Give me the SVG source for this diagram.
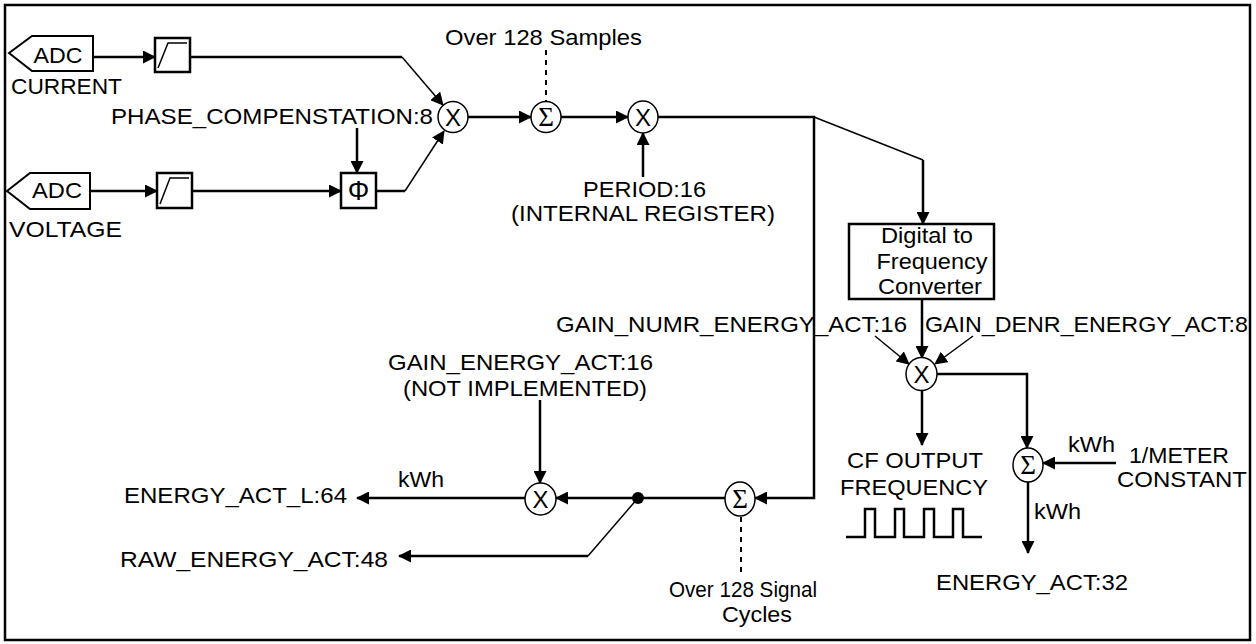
<svg xmlns="http://www.w3.org/2000/svg" width="1256" height="644" viewBox="0 0 1256 644">
<style>
.t{font-family:"Liberation Sans",Arial,sans-serif;font-size:22px;fill:#000}
.m{text-anchor:middle}
.e{text-anchor:end}
.op{font-family:"Liberation Sans",Arial,sans-serif;font-size:24px;text-anchor:middle}
.sg{font-family:"Liberation Serif","DejaVu Serif",serif;font-size:27px;text-anchor:middle}
.ph{font-family:"Liberation Sans","DejaVu Sans",sans-serif;font-size:27px;text-anchor:middle}
.ring{fill:#fff;stroke:#000;stroke-width:1.5}
.box{fill:#fff;stroke:#000;stroke-width:2.5}
.thk{fill:none;stroke:#000;stroke-width:2.5}
.thn{fill:none;stroke:#000;stroke-width:1.5}
.arr{marker-end:url(#ah)}
.dash{fill:none;stroke:#000;stroke-width:2;stroke-dasharray:5 5}
</style>
<defs>
<marker id="ah" markerUnits="userSpaceOnUse" markerWidth="13" markerHeight="13" viewBox="0 0 13 13" refX="12" refY="6.5" orient="auto">
<path d="M0,0 L13,6.5 L0,13 z" fill="#000"/>
</marker>
</defs>
<rect x="5" y="5" width="1245" height="635" fill="#fff" stroke="#000" stroke-width="2.5"/>

<g id="connectors">
<line class="thk arr" x1="93" y1="57" x2="155" y2="57"/>
<line class="thk" x1="190" y1="57" x2="402" y2="57"/>
<line class="thn arr" x1="402" y1="57" x2="443" y2="105"/>
<line class="thk arr" x1="90" y1="191" x2="157" y2="191"/>
<line class="thk arr" x1="192" y1="191" x2="341" y2="191"/>
<line class="thk arr" x1="357" y1="128" x2="357" y2="173"/>
<line class="thk" x1="376" y1="191" x2="405" y2="191"/>
<line class="thn arr" x1="405" y1="191" x2="444" y2="131"/>
<line class="thk arr" x1="468" y1="117" x2="531" y2="117"/>
<line class="dash" x1="546" y1="50" x2="546" y2="101"/>
<line class="thk arr" x1="561" y1="117" x2="628" y2="117"/>
<line class="thk arr" x1="643" y1="177" x2="643" y2="133"/>
<polyline class="thk arr" points="658,117 814,117 814,498 755,498"/>
<line class="thn" x1="814" y1="117" x2="923" y2="160"/>
<line class="thk arr" x1="923" y1="160" x2="923" y2="224"/>
<line class="thk arr" x1="922" y1="299" x2="922" y2="358"/>
<line class="thn arr" x1="875" y1="336" x2="909" y2="364"/>
<line class="thn arr" x1="973" y1="336" x2="935" y2="364"/>
<line class="thk arr" x1="922" y1="390" x2="922" y2="445"/>
<polyline class="thk arr" points="937,374 1027,374 1027,448"/>
<line class="thk arr" x1="1116" y1="463" x2="1043" y2="463"/>
<line class="thk arr" x1="1028" y1="482" x2="1028" y2="553"/>
<line class="thk arr" x1="725" y1="498" x2="556" y2="498"/>
<line class="thn" x1="638" y1="498" x2="588" y2="556"/>
<line class="thk arr" x1="588" y1="556" x2="399" y2="556"/>
<line class="thk arr" x1="525" y1="498" x2="357" y2="498"/>
<line class="thk arr" x1="540" y1="400" x2="540" y2="483"/>
<line class="dash" x1="741" y1="517" x2="741" y2="574"/>
<circle cx="638" cy="498" r="6" fill="#000"/>
<path class="thk" d="M846 537 H865 V509 H875 V537 H895 V509 H904 V537 H924 V509 H934 V537 H953 V509 H963 V537 H982"/>
</g>

<g id="adc-current">
<path d="M9,53 L32,36 L93,36 L93,71 L32,71 Z" fill="#fff" stroke="#000" stroke-width="2"/>
<text class="t m" x="58" y="63" textLength="49" lengthAdjust="spacingAndGlyphs">ADC</text>
<text class="t" x="11" y="94" textLength="111" lengthAdjust="spacingAndGlyphs">CURRENT</text>
</g>
<g id="adc-voltage">
<path d="M7,191 L30,173 L90,173 L90,209 L30,209 Z" fill="#fff" stroke="#000" stroke-width="2"/>
<text class="t m" x="57" y="198" textLength="50" lengthAdjust="spacingAndGlyphs">ADC</text>
<text class="t" x="9" y="237" textLength="113" lengthAdjust="spacingAndGlyphs">VOLTAGE</text>
</g>
<g id="filter-current">
<rect class="box" x="155" y="38" width="35" height="34"/>
<polyline class="thn" points="158,68 168,43 187,43" stroke-width="2"/>
</g>
<g id="filter-voltage">
<rect class="box" x="157" y="173" width="35" height="35"/>
<polyline class="thn" points="160,204 170,178 189,178" stroke-width="2"/>
</g>
<g id="phase">
<rect class="box" x="341" y="173" width="35" height="35"/>
<text class="ph" x="358.5" y="200">Φ</text>
</g>
<g id="phase-label">
<text class="t e" x="433" y="124" textLength="322" lengthAdjust="spacingAndGlyphs">PHASE_COMPENSTATION:8</text>
</g>
<g id="mult1">
<ellipse class="ring" cx="453" cy="117" rx="15" ry="15.5"/>
<text class="op" x="453" y="126">X</text>
</g>
<g id="sum1">
<ellipse class="ring" cx="546" cy="117" rx="15" ry="15.5"/>
<text class="sg" x="546" y="126">Σ</text>
<text class="t m" x="543.5" y="45" textLength="197" lengthAdjust="spacingAndGlyphs">Over 128 Samples</text>
</g>
<g id="mult2">
<ellipse class="ring" cx="643" cy="117" rx="15" ry="16"/>
<text class="op" x="643" y="126">X</text>
</g>
<g id="period">
<text class="t m" x="644.5" y="197" textLength="123" lengthAdjust="spacingAndGlyphs">PERIOD:16</text>
<text class="t m" x="643" y="221" textLength="264" lengthAdjust="spacingAndGlyphs">(INTERNAL REGISTER)</text>
</g>
<g id="dfc">
<rect class="box" x="849" y="224" width="145" height="75"/>
<text class="t m" x="927" y="243" textLength="92" lengthAdjust="spacingAndGlyphs">Digital to</text>
<text class="t m" x="932" y="269" textLength="111" lengthAdjust="spacingAndGlyphs">Frequency</text>
<text class="t m" x="930" y="294" textLength="104" lengthAdjust="spacingAndGlyphs">Converter</text>
</g>
<g id="gain-labels">
<text class="t" x="556" y="332" textLength="351" lengthAdjust="spacingAndGlyphs">GAIN_NUMR_ENERGY_ACT:16</text>
<text class="t" x="925" y="332" textLength="323" lengthAdjust="spacingAndGlyphs">GAIN_DENR_ENERGY_ACT:8</text>
</g>
<g id="mult3">
<ellipse class="ring" cx="921.5" cy="374" rx="15.5" ry="16.5"/>
<text class="op" x="921.5" y="383">X</text>
</g>
<g id="cf-output">
<text class="t m" x="915" y="468" textLength="136" lengthAdjust="spacingAndGlyphs">CF OUTPUT</text>
<text class="t m" x="914" y="495" textLength="148" lengthAdjust="spacingAndGlyphs">FREQUENCY</text>
</g>
<g id="sum3">
<ellipse class="ring" cx="1028" cy="465" rx="15" ry="17"/>
<text class="sg" x="1028" y="474">Σ</text>
<text class="t" x="1068" y="452" textLength="47" lengthAdjust="spacingAndGlyphs">kWh</text>
<text class="t" x="1034" y="519" textLength="47" lengthAdjust="spacingAndGlyphs">kWh</text>
</g>
<g id="meter-constant">
<text class="t m" x="1179" y="463" textLength="100" lengthAdjust="spacingAndGlyphs">1/METER</text>
<text class="t m" x="1182" y="487" textLength="130" lengthAdjust="spacingAndGlyphs">CONSTANT</text>
</g>
<g id="energy-act">
<text class="t" x="936" y="590" textLength="192" lengthAdjust="spacingAndGlyphs">ENERGY_ACT:32</text>
</g>
<g id="sum2">
<ellipse class="ring" cx="740" cy="499" rx="15" ry="17"/>
<text class="sg" x="740" y="508">Σ</text>
<text class="t m" x="743" y="597" textLength="148" lengthAdjust="spacingAndGlyphs">Over 128 Signal</text>
<text class="t m" x="757" y="622" textLength="70" lengthAdjust="spacingAndGlyphs">Cycles</text>
</g>
<g id="mult4">
<ellipse class="ring" cx="540.5" cy="499" rx="15.5" ry="16"/>
<text class="op" x="540.5" y="508">X</text>
</g>
<g id="gain-energy">
<text class="t m" x="520.5" y="370" textLength="265" lengthAdjust="spacingAndGlyphs">GAIN_ENERGY_ACT:16</text>
<text class="t m" x="525" y="396" textLength="244" lengthAdjust="spacingAndGlyphs">(NOT IMPLEMENTED)</text>
</g>
<g id="energy-act-l">
<text class="t e" x="347" y="503" textLength="223" lengthAdjust="spacingAndGlyphs">ENERGY_ACT_L:64</text>
<text class="t" x="398" y="487" textLength="46" lengthAdjust="spacingAndGlyphs">kWh</text>
</g>
<g id="raw-energy">
<text class="t e" x="388" y="567" textLength="268" lengthAdjust="spacingAndGlyphs">RAW_ENERGY_ACT:48</text>
</g>
</svg>
